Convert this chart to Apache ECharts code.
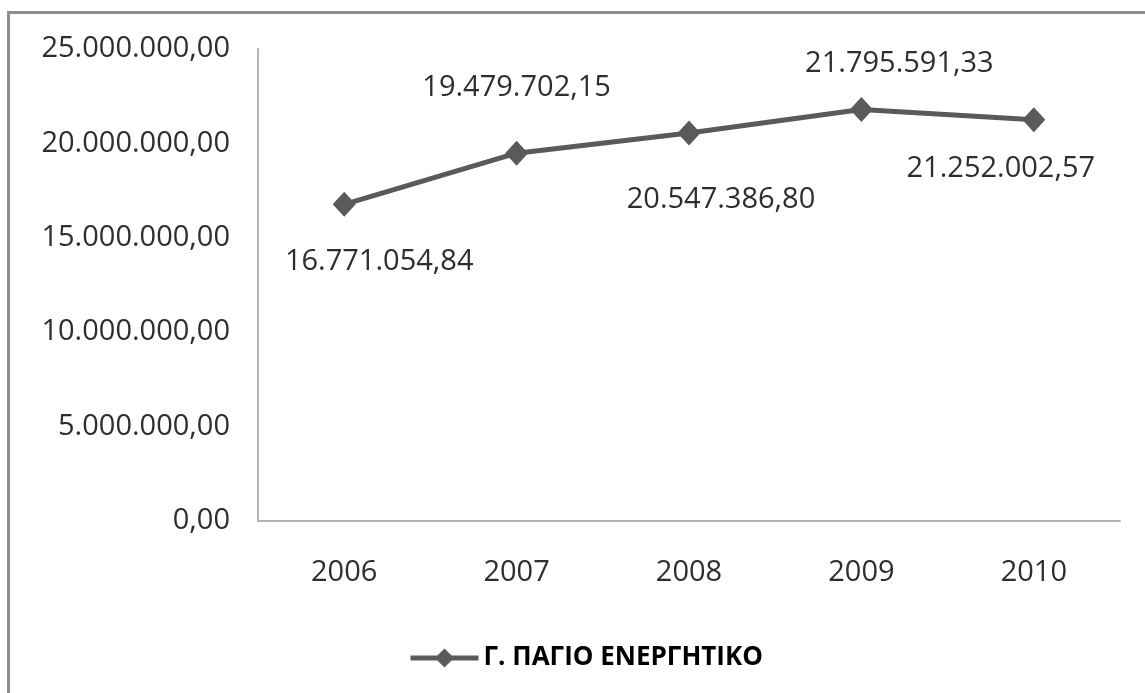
<!DOCTYPE html>
<html>
<head>
<meta charset="utf-8">
<script src="https://cdn.jsdelivr.net/npm/echarts@6/dist/echarts.min.js"></script>
<style>
html,body{margin:0;padding:0;background:#fff;}
#chart{width:1145px;height:693px;}
</style>
</head>
<body>
<div id="chart"></div>
<script>
var categories = ['2006', '2007', '2008', '2009', '2010'];
var seriesName = 'Γ. ΠΑΓΙΟ ΕΝΕΡΓΗΤΙΚΟ';
var values = [16771054.84, 19479702.15, 20547386.80, 21795591.33, 21252002.57];
var yMin = 0, yMax = 25000000, yStep = 5000000;
// label offsets (manual placement as in the reference)
var labelOffsets = [[35, 57], [0, -65], [32, 67], [38, -46], [-33, 49]];

function fmtGr(v) {
  var s = Number(v).toFixed(2);
  var parts = s.split('.');
  var intPart = parts[0].replace(/\B(?=(\d{3})+(?!\d))/g, '.');
  return intPart + ',' + parts[1];
}

var FONT = '"Open Sans", "DejaVu Sans", sans-serif';
var chart = echarts.init(document.getElementById('chart'));
var lineColor = '#5a5a5a';
var textColor = '#2e2e2e';

var dataItems = values.map(function (v, i) {
  return {
    value: v,
    label: { offset: labelOffsets[i] }
  };
});

chart.setOption({
  animation: false,
  backgroundColor: '#ffffff',
  graphic: [{
    type: 'rect',
    shape: { x: 8.5, y: 12.5, width: 1300, height: 900 },
    style: { fill: 'none', stroke: '#8e8e8e', lineWidth: 3 },
    silent: true
  }],
  grid: { left: 258, right: 25, top: 49, bottom: 172, containLabel: false },
  legend: {
    data: [seriesName],
    left: 403,
    top: 640,
    itemWidth: 68,
    itemHeight: 24,
    itemGap: 4,
    lineStyle: { width: 5, color: lineColor },
    itemStyle: { color: lineColor },
    textStyle: { fontFamily: FONT, fontSize: 26, fontWeight: 'bold', color: '#000' }
  },
  xAxis: {
    type: 'category',
    data: categories,
    boundaryGap: true,
    axisLine: { show: true, lineStyle: { color: '#b4b4b4', width: 2 } },
    axisTick: { show: false },
    axisLabel: { fontFamily: FONT, fontSize: 29, color: textColor, margin: 37 },
    splitLine: { show: false }
  },
  yAxis: {
    type: 'value',
    min: yMin,
    max: yMax,
    interval: yStep,
    axisLine: { show: true, lineStyle: { color: '#b4b4b4', width: 2 } },
    axisTick: { show: false },
    splitLine: { show: false },
    axisLabel: {
      fontFamily: FONT, fontSize: 29, color: textColor, margin: 28,
      formatter: function (v) { return fmtGr(v); }
    }
  },
  series: [{
    name: seriesName,
    type: 'line',
    data: dataItems,
    symbol: 'diamond',
    symbolSize: [23, 25],
    lineStyle: { color: lineColor, width: 5 },
    itemStyle: { color: lineColor },
    label: {
      show: true,
      position: 'inside',
      fontFamily: FONT,
      fontSize: 29,
      color: textColor,
      formatter: function (p) { return fmtGr(p.value); }
    }
  }]
});
</script>
</body>
</html>
